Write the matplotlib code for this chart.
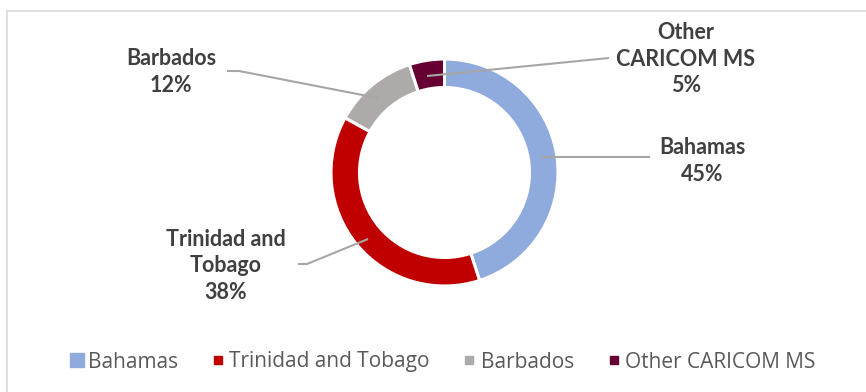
import matplotlib.pyplot as plt
from matplotlib.lines import Line2D

# chart data
countries = ["Bahamas", "Trinidad and Tobago", "Barbados", "Other CARICOM MS"]
shares = [45, 38, 12, 5]
colors = ["#8FAADC", "#C00000", "#AEAAAA", "#660033"]
label_texts = ["Bahamas", "Trinidad and\nTobago", "Barbados", "Other\nCARICOM MS"]

W, H = 866, 392
fig = plt.figure(figsize=(W / 100, H / 100), dpi=100)
ax = fig.add_axes([0, 0, 1, 1])

# donut, pixel coordinates with y measured from the bottom
cx, cy = 444.5, H - 172.5
R = 113.5
wedges, _ = ax.pie(shares, colors=colors, startangle=90, counterclock=False,
                   center=(cx, cy), radius=R,
                   wedgeprops=dict(width=28.5, edgecolor="white", linewidth=2.2))
ax.set_xlim(0, W)
ax.set_ylim(0, H)
ax.set_aspect("equal")
ax.axis("off")

# data labels with leader lines (pixel positions from top)
lab_pos = [(702, 161), (226, 266), (171, 72), (686, 59)]
leaders = [
    [(541, 157), (650, 157)],
    [(368, 239), (307, 264), (298, 264)],
    [(378, 98), (239, 71), (227, 71)],
    [(427, 76), (609, 58)],
]
lc = "#A6A6A6"
for txt, val, (x, y), pts in zip(label_texts, shares, lab_pos, leaders):
    xs = [p[0] for p in pts]
    ys = [H - p[1] for p in pts]
    ax.plot(xs, ys, color=lc, lw=1.5, solid_capstyle="butt")
    ax.text(x, H - y, f"{txt}\n{val}%", ha="center", va="center",
            fontsize=15.5, fontweight="bold", color="#404040",
            family="Lato", linespacing=1.33)

# legend
handles = [Line2D([], [], ls="none", marker="s", markersize=ms, color=c)
           for c, ms in zip(colors, [10, 6, 6, 6])]
fig.legend(handles, countries, loc="center", bbox_to_anchor=(443 / W, 1 - 362 / H),
           ncol=4, frameon=False, prop=dict(family="Open Sans", size=15),
           labelcolor="#595959", handlelength=0.6, handletextpad=0.25,
           columnspacing=1.6)

# chart border (left and top visible)
ax.plot([7, 7], [0, H - 11], color="#D9D9D9", lw=1.2)
ax.plot([7, W], [H - 11, H - 11], color="#D9D9D9", lw=1.2)

fig.savefig("out.png", dpi=100)
